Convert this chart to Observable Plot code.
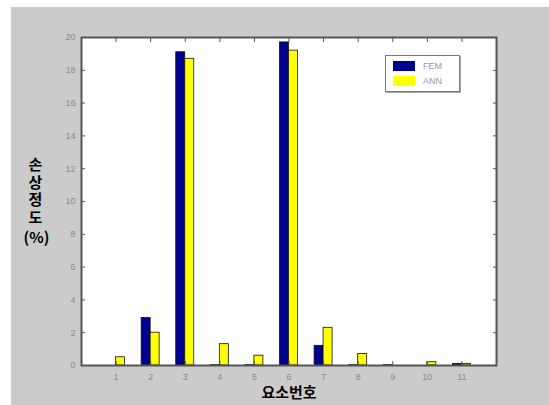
<!DOCTYPE html>
<html>
<head>
<meta charset="utf-8">
<script src="https://cdn.jsdelivr.net/npm/d3@7"></script>
<script src="https://cdn.jsdelivr.net/npm/@observablehq/plot@0.6"></script>
<style>
  html, body { margin: 0; padding: 0; background: #ffffff; }
  #wrap { position: absolute; left: 11px; top: 7px; width: 538px; height: 398px; background: #cbcbcb; }
  #legend { position: absolute; left: 374px; top: 48px; width: 73px; height: 35px;
    background: #ffffff; border: 1px solid #777; box-shadow: 1px 1px 0 #aaa;
    font-family: "Liberation Sans", Arial, sans-serif; font-size: 9px; color: #999; }
  .row { position: absolute; left: 7px; display: flex; align-items: center; }
  .sw { width: 22px; height: 10px; margin-right: 8px; }
</style>
</head>
<body>
<div id="wrap"></div>
<script>
const categories = [1, 2, 3, 4, 5, 6, 7, 8, 9, 10, 11];
const fem = [0, 2.9, 19.1, 0.02, 0.02, 19.7, 1.2, 0.02, 0.02, 0, 0.1];
const ann = [0.5, 2.0, 18.7, 1.3, 0.6, 19.2, 2.3, 0.7, 0, 0.2, 0.1];
const seriesNames = ["FEM", "ANN"];
const seriesColors = ["#000090", "#ffff00"];
const yTicks = [0, 2, 4, 6, 8, 10, 12, 14, 16, 18, 20];
const yLabel = "손상정도";
const yUnit = "(%)";
const xLabel = "요소번호";

const barW = 0.26;
const rows = [];
categories.forEach((c, i) => {
  rows.push({cat: c, series: "FEM", x1: c - barW, x2: c, v: fem[i]});
  rows.push({cat: c, series: "ANN", x1: c, x2: c + barW, v: ann[i]});
});

const tickStyle = {fontSize: 9, fill: "#8a8a8a"};
const noLabel = () => "";
const chart = Plot.plot({
  width: 538,
  height: 398,
  marginLeft: 70,
  marginTop: 30,
  marginRight: 53,
  marginBottom: 40,
  style: {background: "#cbcbcb", fontFamily: "Liberation Sans, Arial, sans-serif"},
  x: {domain: [0, 12]},
  y: {domain: [0, 20]},
  color: {domain: seriesNames, range: seriesColors},
  marks: [
    Plot.frame({fill: "white"}),
    Plot.rectY(rows, {x1: "x1", x2: "x2", y1: 0, y2: "v", fill: "series", stroke: "#111", strokeWidth: 0.8}),
    Plot.axisY({anchor: "left", ticks: yTicks, tickSize: -4, tickPadding: 10, stroke: "#555", label: null, ...tickStyle}),
    Plot.axisY({anchor: "right", ticks: yTicks, tickSize: -4, tickFormat: noLabel, stroke: "#555", label: null}),
    Plot.axisX({anchor: "bottom", ticks: categories, tickSize: -4, tickPadding: 12, stroke: "#555", label: null, ...tickStyle}),
    Plot.axisX({anchor: "top", ticks: categories, tickSize: -4, tickFormat: noLabel, stroke: "#555", label: null}),
    Plot.frame({stroke: "#555", strokeWidth: 2}),
    Plot.text([yLabel], {frameAnchor: "left", dx: -46, dy: -49, textAnchor: "start", fontSize: 15, fontWeight: "bold", fill: "#000", fontFamily: "Noto Sans CJK KR", className: "vlabel"}),
    Plot.text([yUnit], {frameAnchor: "left", dx: -45, dy: 37, textAnchor: "middle", fontSize: 15, fontWeight: "bold", fill: "#000", fontFamily: "Noto Sans CJK KR"}),
    Plot.text([xLabel], {frameAnchor: "bottom", dy: 32, fontSize: 15, fontWeight: "bold", fill: "#000", fontFamily: "Noto Sans CJK KR"})
  ]
});
// stack the Korean y label vertically (upright characters)
chart.querySelectorAll(".vlabel text").forEach(t => {
  t.style.writingMode = "vertical-rl";
  t.style.textOrientation = "upright";
  t.setAttribute("dy", "0");
  t.style.letterSpacing = "2.5px";
});
const wrap = document.getElementById("wrap");
wrap.appendChild(chart);

const legend = document.createElement("div");
legend.id = "legend";
seriesNames.forEach((name, i) => {
  const row = document.createElement("div");
  row.className = "row";
  row.style.top = (5 + i * 15) + "px";
  const sw = document.createElement("div");
  sw.className = "sw";
  sw.style.background = seriesColors[i];
  const t = document.createElement("span");
  t.textContent = name;
  row.appendChild(sw);
  row.appendChild(t);
  legend.appendChild(row);
});
wrap.appendChild(legend);
</script>
</body>
</html>
